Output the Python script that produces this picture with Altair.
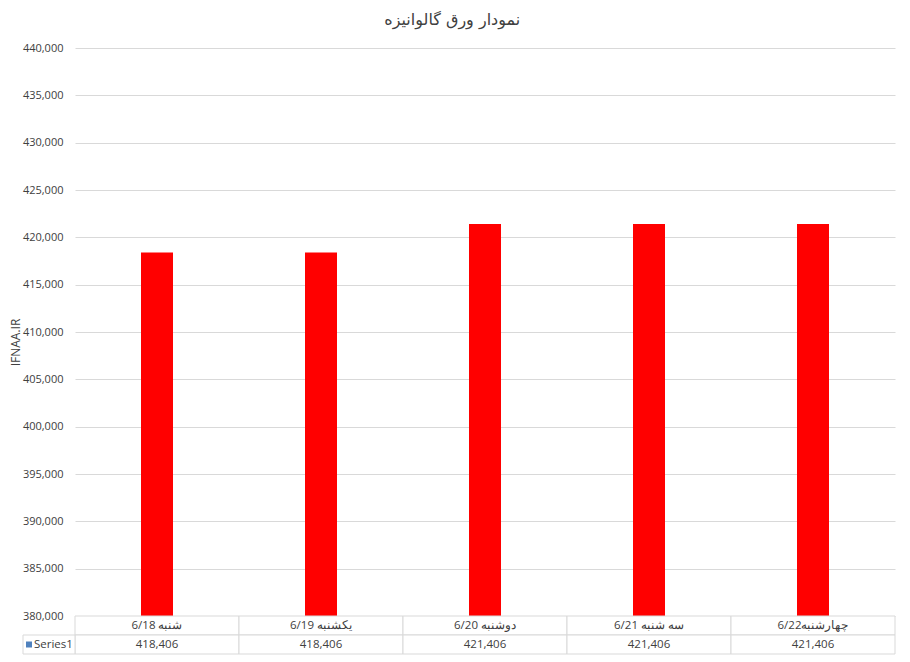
import altair as alt
import pandas as pd

title_text = "نمودار ورق گالوانیزه"
categories = ["6/18 شنبه", "6/19 یکشنبه", "6/20 دوشنبه", "6/21 سه شنبه", "6/22چهارشنبه"]
values = [418406, 418406, 421406, 421406, 421406]
series_name = "Series1"
y_axis_title = "IFNAA.IR"

df = pd.DataFrame({"cat": categories, "value": values})

rows = []
for c, v in zip(categories, values):
    rows.append({"cat": c, "row": "cat", "label": c})
    rows.append({"cat": c, "row": "val", "label": f"{v:,}"})
tdf = pd.DataFrame(rows)
sdf = pd.DataFrame({"row": ["val"], "label": [series_name]})

FONT = "Open Sans"
GRID = "#d9d9d9"
TXT = "#404040"

xscale = alt.Scale(domain=categories, paddingInner=0, paddingOuter=0)

bars = alt.Chart(df).mark_bar(size=32, color="#FF0000", clip=True).encode(
    x=alt.X("cat:N", scale=xscale, sort=categories, axis=None),
    y=alt.Y(
        "value:Q",
        scale=alt.Scale(domain=[380000, 440000], nice=False, zero=False),
        axis=alt.Axis(
            title=y_axis_title,
            values=list(range(380000, 440001, 5000)),
            format=",d",
            ticks=False,
            domain=False,
            grid=True,
            gridColor=GRID,
            labelPadding=12,
            labelFont=FONT,
            labelFontSize=11,
            labelColor=TXT,
            titleFont=FONT,
            titleFontSize=12,
            titleFontWeight="normal",
            titleColor=TXT,
            titleX=-60,
            titleY=294,
            titleAngle=270,
            titleAlign="center",
            titleBaseline="middle",
        ),
    ),
).properties(width=820, height=568)

tbase = alt.Chart(tdf).encode(
    x=alt.X("cat:N", scale=xscale, sort=categories, axis=None),
    y=alt.Y("row:N", scale=alt.Scale(domain=["cat", "val"], paddingInner=0, paddingOuter=0), axis=None),
)
cells = tbase.mark_rect(fill="white", stroke=GRID, strokeWidth=1)
texts = tbase.mark_text(font=FONT, fontSize=11.5, color=TXT).encode(text="label:N")

sbase = alt.Chart(sdf).encode(
    y=alt.Y("row:N", scale=alt.Scale(domain=["cat", "val"], paddingInner=0, paddingOuter=0), axis=None)
)
scell = sbase.mark_rect(fill="white", stroke=GRID, strokeWidth=1).encode(x=alt.value(-52), x2=alt.value(0))
skey = sbase.mark_square(size=36, color="#4F81BD", opacity=1).encode(x=alt.value(-46))
stext = sbase.mark_text(font=FONT, fontSize=11.5, color=TXT, align="left").encode(
    x=alt.value(-41), text="label:N"
)

table = alt.layer(cells, texts, scell, skey, stext).properties(width=820, height=38)

chart = alt.vconcat(bars, table, spacing=0, bounds="flush").properties(
    title=alt.TitleParams(
        title_text, font="DejaVu Sans", fontSize=16, fontWeight="normal", color=TXT,
        anchor="middle", offset=14,
    ),
    padding={"left": 1, "top": 4, "right": 5, "bottom": 5},
).configure_view(stroke=None).configure_concat(spacing=0)

chart.save("out.html", embed_options={"renderer": "svg", "actions": False})
